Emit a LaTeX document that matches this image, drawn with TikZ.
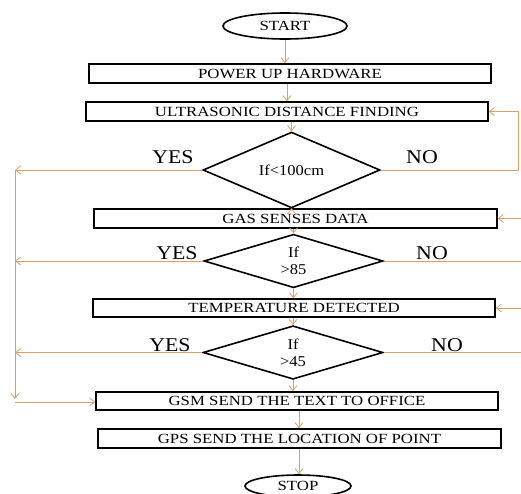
\documentclass[tikz,border=0pt]{standalone}
\usepackage{fontspec}
\setmainfont{Liberation Serif}
\newfontfamily\boxfont[FakeStretch=1.2]{Liberation Serif}
\newfontfamily\diafont[FakeStretch=1.1]{Liberation Serif}
\newfontfamily\labfont[FakeStretch=1.12]{Liberation Serif}
\usetikzlibrary{shapes.geometric,arrows.meta}
\definecolor{arrc}{RGB}{222,158,105}
\begin{document}
\begin{tikzpicture}[x=1pt,y=-1pt,
  box/.style={draw=black,line width=1.6pt,inner sep=0pt,font=\boxfont\fontsize{14}{16}\selectfont},
  dia/.style={draw=black,line width=1.6pt,diamond,inner sep=0pt,align=center,font=\diafont\fontsize{15}{17}\selectfont},
  term/.style={draw=black,line width=1.6pt,ellipse,inner sep=0pt,font=\boxfont\fontsize{14}{16}\selectfont},
  lab/.style={font=\labfont\fontsize{19.5}{21}\selectfont,inner sep=0pt},
  arr/.style={draw=arrc,line width=0.8pt,-{Straight Barb[length=5pt,width=8pt]}},
  ln/.style={draw=arrc,line width=0.8pt}]
\clip (0,0) rectangle (521,493);
\fill[white] (0,0) rectangle (521,493);
\node[term,minimum width=124pt,minimum height=26pt] (start) at (285,26) {START};
\node[box,minimum width=402pt,minimum height=19pt] (power) at (290,73.5) {POWER UP HARDWARE};
\node[box,minimum width=402pt,minimum height=19pt] (ultra) at (287,111.5) {ULTRASONIC DISTANCE FINDING};
\node[dia,minimum width=177pt,minimum height=48pt] (d1) at (291.5,170) {If<100cm};
\node[box,minimum width=403pt,minimum height=19pt] (gas) at (295.5,218.5) {GAS SENSES DATA};
\node[dia,minimum width=179pt,minimum height=48pt] (d2) at (293.5,261) {If\\>85};
\node[box,minimum width=402pt,minimum height=18pt] (temp) at (294,308) {TEMPERATURE DETECTED};
\node[dia,minimum width=180pt,minimum height=49pt] (d3) at (293,352.5) {If\\>45};
\node[box,minimum width=402pt,minimum height=18pt] (gsm) at (297,401) {GSM SEND THE TEXT TO OFFICE};
\node[box,minimum width=403pt,minimum height=19pt] (gps) at (299.5,438.5) {GPS SEND THE LOCATION OF POINT};
\node[term,minimum width=106pt,minimum height=22pt] (stop) at (298,486) {STOP};
\node[lab] (y1) at (173,157) {YES};
\node[lab] (n1t) at (422,157) {NO};
\node[lab] (y2) at (177,253) {YES};
\node[lab] (n2t) at (432,253) {NO};
\node[lab] (y3) at (170,345) {YES};
\node[lab] (n3t) at (447,345) {NO};
\coordinate (l1) at (15,170);
\coordinate (l2) at (15,261);
\coordinate (l3) at (15,352.5);
\coordinate (lb) at (15,399);
\coordinate (lc) at (15,402);
\coordinate (r1) at (518,170);
\coordinate (r2) at (521,261);
\coordinate (r3) at (521,352.5);
\coordinate (e2) at (521,218.5);
\coordinate (e3) at (521,308);
% main flow
\draw[arr] (start.south) -- (start.south |- power.north);
\draw[arr] (power.south -| 287,0) -- (ultra.north -| 287,0);
\draw[arr] (ultra.south -| d1.north) -- (d1.north);
\draw[arr] (d1.south) -- (d1.south |- gas.north);
\draw[arr] (gas.south -| d2.north) -- (d2.north);
\draw[arr] (d2.south) -- (d2.south |- temp.north);
\draw[arr] (temp.south -| d3.north) -- (d3.north);
\draw[arr] (d3.south) -- (d3.south |- gsm.north);
\draw[arr] (gsm.south -| 299,0) -- (gps.north -| 299,0);
\draw[arr] (gps.south -| 299,0) -- (stop.north -| 299,0);
% YES branches
\draw[arr] (d1.west) -- (l1);
\draw[arr] (d2.west) -- (l2);
\draw[arr] (d3.west) -- (l3);
\draw[arr] (l1) -- (lb);
\draw[arr] (lc) -- (gsm.west |- lc);
% NO branches
\draw[arr] (d1.east) -- (r1) |- (ultra.east);
\draw[ln] (d2.east) -- (r2);
\draw[ln] (d3.east) -- (r3);
\draw[arr] (e2) -- (gas.east);
\draw[arr] (e3) -- (temp.east);
\end{tikzpicture}
\end{document}
